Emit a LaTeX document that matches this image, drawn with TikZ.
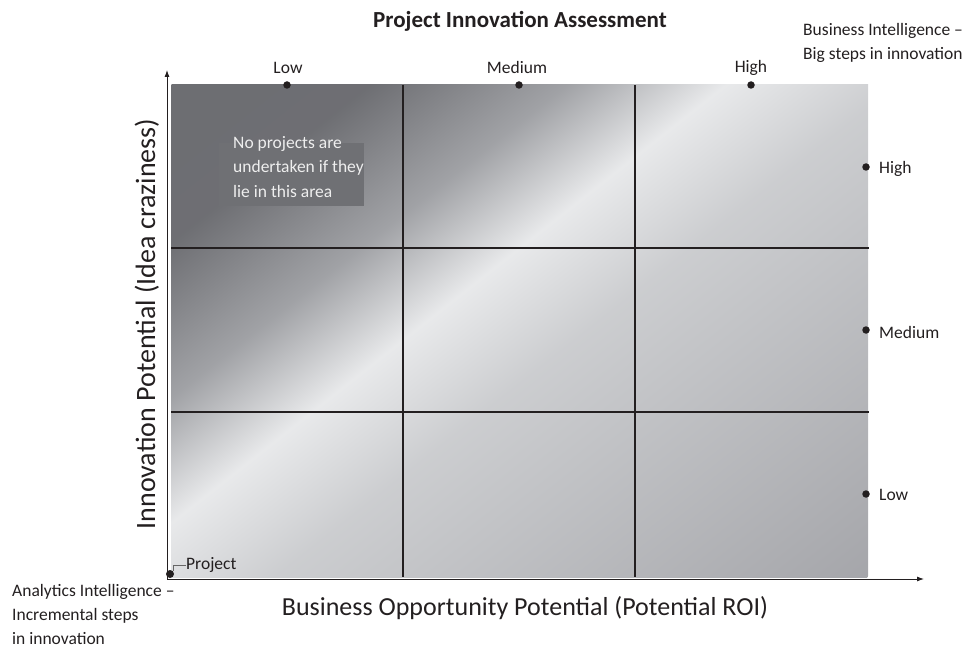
\documentclass[tikz,border=0pt]{standalone}
\usepackage{fontspec}
\setmainfont{Carlito}
\usetikzlibrary{arrows.meta}
\definecolor{ink}{RGB}{35,31,32}
\definecolor{boxgray}{RGB}{111,112,116}
\definecolor{boxtext}{RGB}{238,238,238}
\pgfdeclarehorizontalshading{metal}{100bp}{rgb(0bp)=(0.42,0.423,0.44); rgb(32.5bp)=(0.43,0.433,0.45); rgb(40bp)=(0.63,0.635,0.65); rgb(46bp)=(0.91,0.914,0.92); rgb(52.5bp)=(0.80,0.805,0.815); rgb(75bp)=(0.647,0.65,0.667); rgb(100bp)=(0.647,0.65,0.667)}
\tikzset{
  gridline/.style={draw=ink, line width=1.3pt},
  axisline/.style={draw=ink, line width=0.9pt, -{Latex[length=7pt,width=5pt]}},
  dotnode/.style={circle, fill=ink, inner sep=0pt, minimum size=7.5pt},
  lbl/.style={text=ink, font=\fontsize{17.5}{20}\selectfont, inner sep=0pt},
  axlbl/.style={text=ink, inner sep=0pt},
  cornerlbl/.style={text=ink, font=\fontsize{17.5}{24}\selectfont, inner sep=0pt, align=left},
}
\begin{document}
\begin{tikzpicture}[x=1pt,y=-1pt]
\useasboundingbox (0,0) rectangle (967,655);
% shaded field
\begin{scope}
  \clip (171,85) rectangle (868,577);
  \shade[shading=metal, transform canvas={shift={(171,85)},rotate=-51.7}] (0,-1000) rectangle (818,1000);
\end{scope}
% grid lines
\coordinate (v1t) at (403,85);  \coordinate (v1b) at (403,577);
\coordinate (v2t) at (635,85);  \coordinate (v2b) at (635,577);
\coordinate (h1l) at (171,248); \coordinate (h1r) at (869,248);
\coordinate (h2l) at (171,412); \coordinate (h2r) at (869,412);
\draw[gridline] (v1t) -- (v1b);
\draw[gridline] (v2t) -- (v2b);
\draw[gridline] (h1l) -- (h1r);
\draw[gridline] (h2l) -- (h2r);
% axes
\coordinate (orig) at (167,579);
\coordinate (ytop) at (167,70);
\coordinate (xend) at (924,579);
\draw[axisline] (orig) -- (ytop);
\draw[axisline] (orig) -- (xend);
% note box
\node[fill=boxgray, minimum width=145pt, minimum height=63pt, inner sep=0pt] (notebox) at (291,174.5) {};
\node[text=boxtext, font=\fontsize{17.5}{24.5}\selectfont, align=left, inner sep=0pt, anchor=north west] (note) at (233,136) {No projects are\\undertaken if they\\lie in this area};
% top dots
\node[dotnode] (tlow) at (287,85) {};
\node[dotnode] (tmed) at (519,85) {};
\node[dotnode] (thigh) at (751,85) {};
\node[lbl] (tlowl) at (288,68) {Low};
\node[lbl] (tmedl) at (517,67) {Medium};
\node[lbl] (thighl) at (751,68) {High};
% right dots
\node[dotnode] (rhigh) at (866,167) {};
\node[dotnode] (rmed) at (866,330) {};
\node[dotnode] (rlow) at (866,494) {};
\node[lbl, anchor=west] (rhighl) at (879,169) {High};
\node[lbl, anchor=west] (rmedl) at (879,332) {Medium};
\node[lbl, anchor=west] (rlowl) at (879,495) {Low};
% project
\node[dotnode, minimum size=8pt] (pdot) at (170,574) {};
\node[lbl, anchor=west] (proj) at (186,565) {Project};
\draw[gray!80!black, line width=0.7pt] (pdot.north east) |- (proj.west);
% titles
\node[text=ink, font=\bfseries\fontsize{23}{27}\selectfont, inner sep=0pt, anchor=base] (title) at (520,28) {Project Innovation Assessment};
\node[axlbl, font=\fontsize{26}{30}\selectfont, anchor=base] (xlab) at (525,615) {Business Opportunity Potential (Potential ROI)};
\node[axlbl, font=\fontsize{28}{32}\selectfont, rotate=90, anchor=base] (ylab) at (155,324) {Innovation Potential (Idea craziness)};
\node[cornerlbl, anchor=north west] (bi) at (803,23) {Business Intelligence --\\Big steps in innovation};
\node[cornerlbl, anchor=north west] (ai) at (12,584) {Analytics Intelligence --\\Incremental steps\\in innovation};
\end{tikzpicture}
\end{document}
